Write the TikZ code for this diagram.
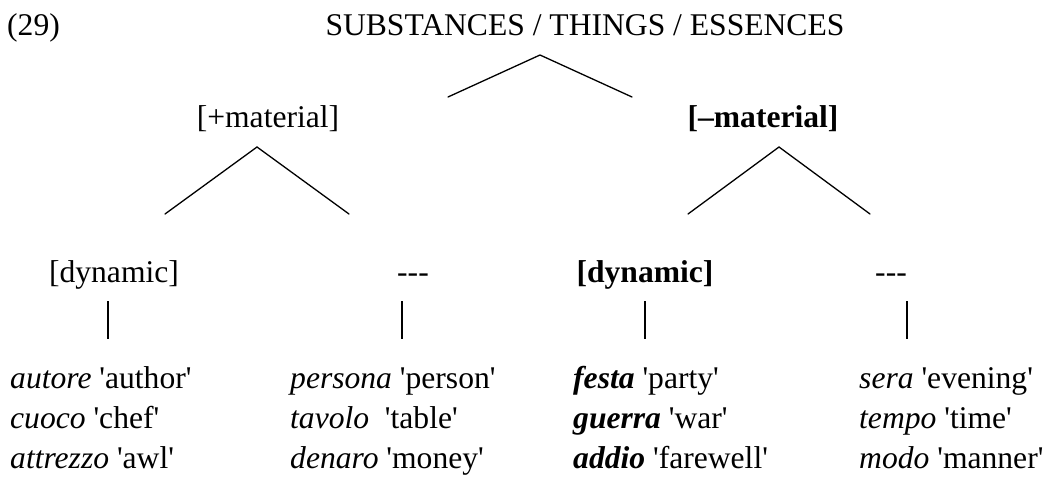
\documentclass[tikz,border=0pt]{standalone}
\usepackage{fontspec}
\setmainfont{Liberation Serif}[Ligatures=TeXOff]
\begin{document}
\fontsize{31.6}{38}\selectfont
\begin{tikzpicture}[x=1pt,y=-1pt,
  lbl/.style={inner sep=0pt,anchor=base},
  word/.style={inner sep=0pt,anchor=base west},
  branch/.style={line width=1.3pt,line cap=round}]
\useasboundingbox (0,0) rectangle (1048,484);

% heading
\node[word] (num) at (7,36) {(29)};
\node[lbl] (top) at (585,36) {SUBSTANCES / THINGS / ESSENCES};

% first split
\coordinate (a0) at (540,55);
\coordinate (a1) at (448,97);
\coordinate (a2) at (632,97);
\draw[branch] (a1) -- (a0) -- (a2);

\node[lbl] (mat) at (268,128) {[+material]};
\node[lbl] (imm) at (763,128) {\textbf{[–material]}};

% second splits
\coordinate (b0) at (257,147);
\coordinate (b1) at (165,214);
\coordinate (b2) at (349,214);
\draw[branch] (b1) -- (b0) -- (b2);
\coordinate (c0) at (779,147);
\coordinate (c1) at (688,214);
\coordinate (c2) at (870,214);
\draw[branch] (c1) -- (c0) -- (c2);

% feature labels
\node[lbl] (d1) at (114,282) {[dynamic]};
\node[lbl] (n1) at (413,282) {---};
\node[lbl] (d2) at (645,282) {\textbf{[dynamic]}};
\node[lbl] (n2) at (891,282) {---};

% vertical links
\foreach \i/\x in {1/108,2/402,3/645,4/907}{
  \coordinate (v\i a) at (\x,301);
  \coordinate (v\i b) at (\x,339);
  \draw[line width=1.3pt] (v\i a) -- (v\i b);
}

% examples
\node[word] (e11) at (10,388) {\textit{autore} 'author'};
\node[word] (e12) at (10,428) {\textit{cuoco} 'chef'};
\node[word] (e13) at (10,468) {\textit{attrezzo} 'awl'};
\node[word] (e21) at (290,388) {\textit{persona} 'person'};
\node[word] (e22) at (290,428) {\textit{tavolo}\ \ 'table'};
\node[word] (e23) at (290,468) {\textit{denaro} 'money'};
\node[word] (e31) at (573,388) {\textbf{\textit{festa}} 'party'};
\node[word] (e32) at (573,428) {\textbf{\textit{guerra}} 'war'};
\node[word] (e33) at (573,468) {\textbf{\textit{addio}} 'farewell'};
\node[word] (e41) at (859,388) {\textit{sera} 'evening'};
\node[word] (e42) at (859,428) {\textit{tempo} 'time'};
\node[word] (e43) at (859,468) {\textit{modo} 'manner'};
\end{tikzpicture}
\end{document}
